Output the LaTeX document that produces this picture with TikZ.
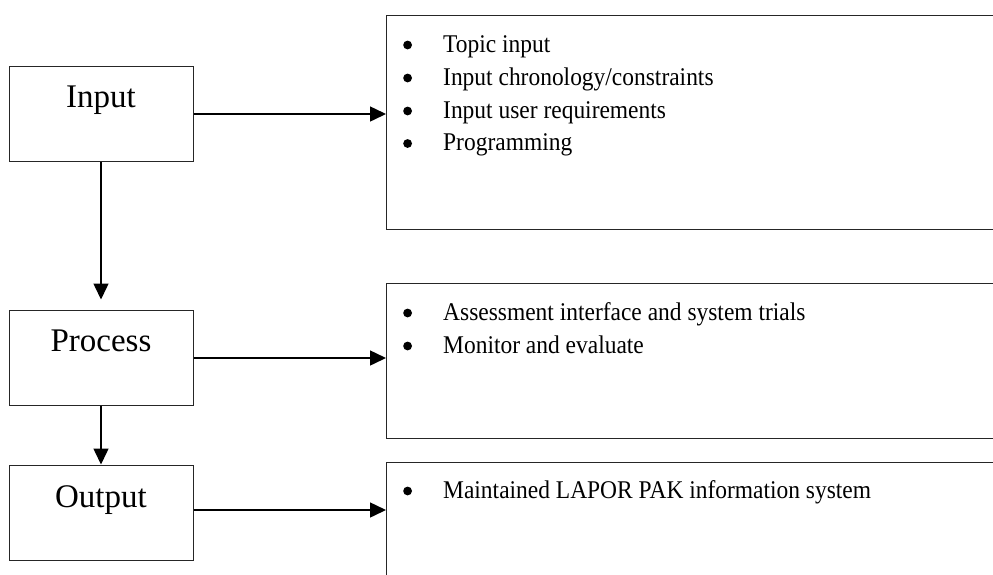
\documentclass[tikz,border=0pt]{standalone}
\usepackage{fontspec}
\setmainfont{Liberation Serif}
\newfontfamily\listfont[FakeStretch=0.92]{Liberation Serif}
\usetikzlibrary{arrows.meta}
\newcommand{\bdot}{\tikz[x=1pt,y=1pt,baseline=-7pt]\fill[black] (0,0) circle (4.4pt);}
\newcommand{\bitem}[1]{\makebox[41pt][l]{\hspace{1pt}\bdot}#1}
\tikzset{
  lbox/.style={draw=black!85, line width=1pt, minimum width=184pt, minimum height=95pt, inner sep=0pt},
  ltext/.style={inner sep=0pt, font=\fontsize{33}{33}\selectfont},
  btext/.style={inner sep=0pt, anchor=base west, text height=18pt, text depth=6pt, font=\listfont\fontsize{25.5}{32.7}\selectfont},
  frame/.style={draw=black!85, line width=1pt},
  conn/.style={line width=1.5pt, -{Triangle[length=16pt,width=15pt]}},
}
\begin{document}
\begin{tikzpicture}[x=1pt,y=-1pt]
\useasboundingbox (0,0) rectangle (993,574);
\clip (0,0) rectangle (993,574);
% left boxes
\node[lbox] (in) at (101,113.5) {};
\node[lbox] (pr) at (101,357.5) {};
\node[lbox] (out) at (101,512.5) {};
\node[ltext, anchor=base] (intxt) at (101,107) {Input};
\node[ltext, anchor=base] (prtxt) at (101,351) {Process};
\node[ltext, anchor=base] (outtxt) at (101,507) {Output};
% right frames (cut by the picture edge)
\coordinate (r1) at (386,114);
\coordinate (r2) at (386,358);
\coordinate (r3) at (386,510);
\draw[frame] (1000,15) -- (386,15) -- (386,229) -- (1000,229);
\draw[frame] (1000,283) -- (386,283) -- (386,438) -- (1000,438);
\draw[frame] (1000,462) -- (386,462) -- (386,580);
% lists
\node[btext] (l1a) at (402,52) {\bitem{Topic input}};
\node[btext] (l1b) at (402,85) {\bitem{Input chronology/constraints}};
\node[btext] (l1c) at (402,118) {\bitem{Input user requirements}};
\node[btext] (l1d) at (402,150.5) {\bitem{Programming}};
\node[btext] (l2a) at (402,320) {\bitem{Assessment interface and system trials}};
\node[btext] (l2b) at (402,353) {\bitem{Monitor and evaluate}};
\node[btext] (l3a) at (402,498) {\bitem{Maintained LAPOR PAK information system}};
% connectors
\draw[conn] (in.east |- r1) -- (r1);
\draw[conn] (pr.east |- r2) -- (r2);
\draw[conn] (out.east |- r3) -- (r3);
\draw[conn, shorten >=10pt] (in.south) -- (pr.north);
\draw[conn] (pr.south) -- (out.north);
\end{tikzpicture}
\end{document}
